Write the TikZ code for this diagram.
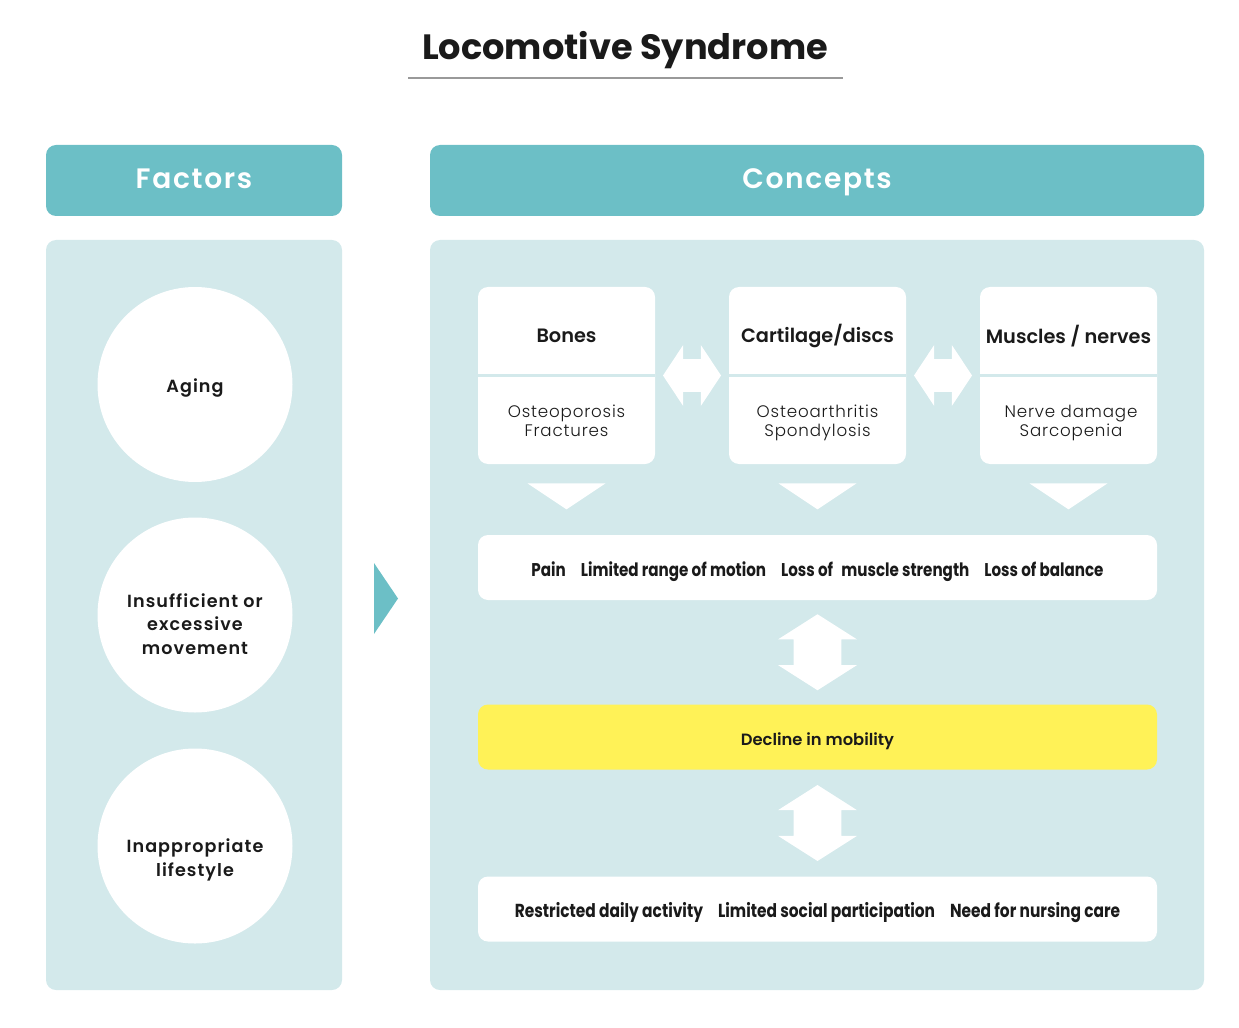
\documentclass[tikz,border=0pt]{standalone}
\usepackage{fontspec}
\setmainfont{Poppins}[BoldFont={Poppins SemiBold}]
\newfontfamily\titlefont{Poppins Bold}
\newfontfamily\lightfont[LetterSpace=5]{Poppins Light}
\newfontfamily\headfont[LetterSpace=6]{Poppins SemiBold}
\newfontfamily\roundfont[LetterSpace=6]{Poppins SemiBold}
\newfontfamily\condfont[FakeStretch=0.82]{Poppins Bold}
\usetikzlibrary{shapes,arrows}
\usetikzlibrary{positioning}
\usetikzlibrary{calc}
\definecolor{Teal}{HTML}{6CBFC6}
\definecolor{Pale}{HTML}{D3E9EB}
\definecolor{Lemon}{HTML}{FFF257}
\definecolor{Ink}{HTML}{1A1A1A}
\tikzstyle{Header}=[fill=Teal,rounded corners=.2cm,minimum height=1.42cm,text height=1.9ex,text depth=.3ex,text=white,font=\headfont\fontsize{16}{18}\selectfont]
\tikzstyle{Panel}=[fill=Pale,rounded corners=.2cm,minimum height=15cm]
\tikzstyle{Factor}=[circle,fill=white,minimum size=3.9cm]
\tikzstyle{FactorText}=[align=center,text=Ink,font=\roundfont\fontsize{10}{13.2}\selectfont]
\tikzstyle{Box}=[fill=white,rounded corners=.2cm,minimum width=3.54cm,minimum height=3.54cm]
\tikzstyle{BoxTitle}=[text=Ink,font=\bfseries\fontsize{11}{13}\selectfont]
\tikzstyle{BoxText}=[text=Ink,align=center,font=\lightfont\fontsize{9.5}{10.8}\selectfont]
\tikzstyle{Bar}=[fill=white,rounded corners=.2cm,minimum width=13.58cm,minimum height=1.3cm,text=Ink,text height=1.9ex,text depth=.1ex,font=\condfont\fontsize{10.5}{12}\selectfont]
\tikzstyle{Divider}=[draw=Pale,line width=.06cm]
\tikzstyle{HArrow}=[double arrow,fill=white,inner xsep=0,inner ysep=.32cm,minimum height=1.16cm,minimum width=1.2cm,double arrow head extend=.28cm,double arrow tip angle=113]
\tikzstyle{VArrow}=[double arrow,fill=white,rotate=90,inner xsep=0,inner ysep=.47cm,minimum height=1.52cm,minimum width=1.56cm,double arrow head extend=.31cm,double arrow tip angle=115]
\tikzstyle{Pointer}=[fill=white]

\begin{document}
\begin{tikzpicture}

  \useasboundingbox (0,0) rectangle (24.78,20.54);

  % Title
  % -----
  \node [text=Ink,font=\titlefont\fontsize{20}{24}\selectfont] (Title) at (12.5,19.53) {Locomotive Syndrome};
  \draw [gray!80,line width=.03cm] (8.16,18.98) -- (16.86,18.98);

  % Factors
  % -------
  \node [Header,minimum width=5.92cm] (Factors) at (3.88,16.93) {Factors};
  \node [Panel,minimum width=5.92cm] (Left) at (3.88,8.24) {};
  \node [Factor] (Aging) at (3.9,12.85) {};
  \node [Factor] (Movement) at (3.9,8.24) {};
  \node [Factor] (Lifestyle) at (3.9,3.62) {};
  \node [FactorText] (AgingT) at ($(Aging.center)+(0,-.08)$) {Aging};
  \node [FactorText] (MovementT) at ($(Movement.center)+(0,-.18)$) {Insufficient or\\excessive\\movement};
  \node [FactorText] (LifestyleT) at ($(Lifestyle.center)+(0,-.28)$) {Inappropriate\\lifestyle};

  % Arrow
  \fill [Teal] (7.48,9.28) -- (7.96,8.57) -- (7.48,7.86) -- cycle;

  % Concepts
  % --------
  \node [Header,minimum width=15.48cm] (Concepts) at (16.34,16.93) {Concepts};
  \node [Panel,minimum width=15.48cm] (Right) at (16.34,8.24) {};

  % Boxes
  \node [Box] (Bones) at (11.33,13.03) {};
  \node [Box] (Cartilage) at (16.35,13.03) {};
  \node [Box] (Muscles) at (21.37,13.03) {};
  \foreach \b in {Bones,Cartilage,Muscles}{
    \draw [Divider] (\b.west) -- (\b.east);
    \fill [Pointer] ($(\b.south)+(-.78,-.38)$) -- ++(1.56,0) -- ++(-.78,-.52) -- cycle;
  }
  \node [BoxTitle] (BonesT) at ($(Bones.center)+(0,.79)$) {Bones};
  \node [BoxTitle] (CartilageT) at ($(Cartilage.center)+(0,.79)$) {Cartilage/discs};
  \node [BoxTitle] (MusclesT) at ($(Muscles.center)+(0,.79)$) {Muscles / nerves};
  \node [BoxText] (BonesS) at ($(Bones.center)+(0,-.95)$) {Osteoporosis\strut\\Fractures\strut};
  \node [BoxText] (CartilageS) at ($(Cartilage.center)+(0,-.95)$) {Osteoarthritis\strut\\Spondylosis\strut};
  \node [BoxText] (MusclesS) at ($(Muscles.center)+(.05,-.95)$) {Nerve damage\strut\\Sarcopenia\strut};

  \node [HArrow] (BC) at ($(Bones.east)!.5!(Cartilage.west)$) {};
  \node [HArrow] (CM) at ($(Cartilage.east)!.5!(Muscles.west)$) {};

  % Bars
  \node [Bar] (Symptoms) at (16.35,9.19) {Pain\hspace{.3cm}Limited range of motion\hspace{.3cm}Loss of\hspace{.1cm} muscle strength\hspace{.3cm}Loss of balance};
  \node [Bar,fill=Lemon,font=\bfseries\fontsize{9.3}{11}\selectfont] (Decline) at (16.35,5.8) {Decline in mobility};
  \node [Bar,font=\condfont\fontsize{10.7}{12}\selectfont] (Activity) at (16.35,2.36) {Restricted daily activity\hspace{.3cm}Limited social participation\hspace{.3cm}Need for nursing care};

  \node [VArrow] (SD) at ($(Symptoms.south)!.5!(Decline.north)$) {};
  \node [VArrow] (DA) at ($(Decline.south)!.5!(Activity.north)$) {};

\end{tikzpicture}
\end{document}
